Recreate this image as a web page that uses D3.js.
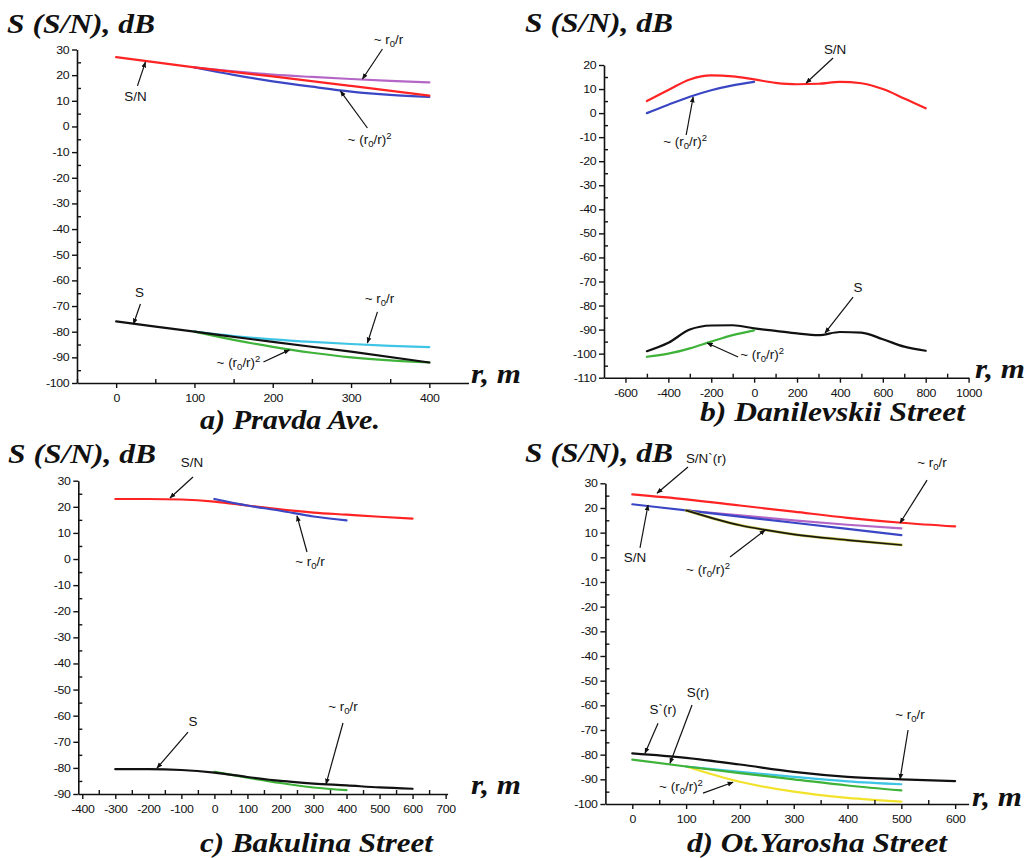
<!DOCTYPE html>
<html>
<head>
<meta charset="utf-8">
<script src="https://cdn.jsdelivr.net/npm/d3@7"></script>
<style>
  body { margin: 0; background: #fff; }
  svg { display: block; }
</style>
</head>
<body>
<svg id="fig" width="1032" height="858"></svg>
<script>
// ---------- a) Pravda Ave. ----------
const aDist = [0, 100, 200, 300, 400];
const aDistFit = [100, 150, 200, 250, 300, 350, 400];
const aSN = [27, 23, 19.5, 15.8, 12];
const aSNr1 = [23, 21.5, 20.2, 19.3, 18.5, 17.8, 17.2];
const aSNr2 = [23, 20.1, 17.6, 15.5, 13.6, 12.3, 11.5];
const aS = [-76, -80, -84, -87.8, -92];
const aSr1 = [-80, -81.7, -83, -84, -84.8, -85.5, -86];
const aSr2 = [-80, -83.2, -85.9, -88.2, -90, -91.2, -92];
const aXTicks = [0, 100, 200, 300, 400];
const aYTicks = [30, 20, 10, 0, -10, -20, -30, -40, -50, -60, -70, -80, -90, -100];

// ---------- b) Danilevskii Street ----------
const bDist = [-500, -400, -300, -200, -100, 0, 100, 200, 300, 400, 500, 600, 700, 800];
const bDistFit = [-500, -400, -300, -200, -100, 0];
const bSN = [5, 9.6, 14, 15.7, 15.3, 14, 12.6, 12, 12.2, 13, 12.4, 10, 6.1, 2];
const bSNr2 = [0, 3.5, 6.8, 9.5, 11.5, 13];
const bS = [-99, -95.5, -90, -88.3, -88.2, -89.5, -90.5, -91.6, -92.3, -91, -91.3, -94, -97.1, -98.8];
const bSr2 = [-101.3, -100, -97.8, -95, -92.3, -90.3];
const bXTicks = [-600, -400, -200, 0, 200, 400, 600, 800, 1000];
const bYTicks = [20, 10, 0, -10, -20, -30, -40, -50, -60, -70, -80, -90, -100, -110];

// ---------- c) Bakulina Street ----------
const cDist = [-300, -200, -100, 0, 100, 200, 300, 400, 500, 600];
const cDistFit = [0, 100, 200, 300, 400];
const cSN = [23, 23, 22.8, 22, 20.5, 19, 17.8, 17, 16.2, 15.5];
const cSNr1 = [23, 20.5, 18.5, 16.3, 14.8];
const cS = [-80.5, -80.5, -80.8, -81.8, -83.5, -85, -86, -86.7, -87.5, -88];
const cSr1 = [-81.5, -83.7, -85.8, -87.5, -88.5];
const cXTicks = [-400, -300, -200, -100, 0, 100, 200, 300, 400, 500, 600, 700];
const cYTicks = [30, 20, 10, 0, -10, -20, -30, -40, -50, -60, -70, -80, -90];

// ---------- d) Ot.Yarosha Street ----------
const dDist = [0, 100, 200, 300, 400, 500, 600];
const dDist5 = [0, 100, 200, 300, 400, 500];
const dDistFit = [100, 200, 300, 400, 500];
const dDistFit2 = [100, 150, 200, 250, 300, 400, 500];
const dSNp = [25.5, 23.5, 21, 18.5, 16, 14, 12.5];
const dSN = [21.5, 19, 16.5, 14, 11.5, 9];
const dSNr1 = [19, 17, 15, 13.2, 11.7];
const dSNr2 = [19, 15.8, 13, 11, 9.3, 7, 5];
const dSp = [-79.5, -81.3, -84, -87, -89, -90, -90.7];
const dS = [-82, -84.8, -87.5, -90, -92.5, -94.5];
const dSr1 = [-84.8, -87, -89, -90.8, -92];
const dSr2 = [-84.8, -91, -95, -97.5, -99];
const dXTicks = [0, 100, 200, 300, 400, 500, 600];
const dYTicks = [30, 20, 10, 0, -10, -20, -30, -40, -50, -60, -70, -80, -90, -100];

// ---------- colours ----------
const RED = '#ff2323', BLUE = '#3a46c4', PURPLE = '#b466c6', CYAN = '#3ec4e4',
      GREEN = '#3fb23a', YELLOW = '#f2e22a', OLIVE = '#c9c450', BLACK = '#111';

const SANS = '"Liberation Sans", Arial, sans-serif';
const SERIF = '"Liberation Serif", "Times New Roman", Times, serif';

const svg = d3.select('#fig');

svg.append('defs').append('marker')
  .attr('id', 'arrow')
  .attr('viewBox', '0 0 10 10')
  .attr('refX', 9).attr('refY', 5)
  .attr('markerWidth', 6).attr('markerHeight', 6)
  .attr('markerUnits', 'userSpaceOnUse')
  .attr('orient', 'auto')
  .append('path').attr('d', 'M0,1 L10,5 L0,9 Z').attr('fill', BLACK);

// labels of the form ~ r0/r and ~ (r0/r)^2
const RF1 = [['~ r'], ['0', 'sub'], ['/r']];
const RF2 = [['~ (r'], ['0', 'sub'], ['/r)'], ['2', 'sup']];

const panels = [
  {
    xr: [77, 468.5], yr: [383, 49.5], xd: [-50, 450], yd: [-100, 30],
    xTicks: aXTicks, xMinor: [-50, 50, 150, 250, 350], yTicks: aYTicks,
    head: [7, 33], rm: [471, 383], title: 'a) Pravda Ave.', titlePos: [200, 429], titleW: 180,
    series: [
      [aDistFit, aSNr1, PURPLE], [aDistFit, aSNr2, BLUE], [aDist, aSN, RED],
      [aDistFit, aSr1, CYAN], [aDistFit, aSr2, GREEN], [aDist, aS, BLACK]
    ],
    notes: [
      [[['S/N']], [24.6, 9.9], [27.2, 15.8], [37.4, 25.1]],
      [RF1, [347.8, 32.1], [340.1, 30.2], [314.6, 18.5]],
      [RF2, [323.6, -6.8], [320.9, -0.6], [286.5, 13.8]],
      [[['S']], [29.8, -66.5], [31, -69.2], [22.1, -77]],
      [RF1, [336.3, -68.8], [333.7, -72.3], [320.9, -84.4]],
      [RF2, [156.2, -93.8], [188.1, -91.8], [221.3, -87.1]]
    ]
  },
  {
    xr: [604, 968.6], yr: [377.7, 65], xd: [-700, 1000], yd: [-110, 20],
    xTicks: bXTicks, xMinor: [-500, -300, -100, 100, 300, 500, 700, 900], yTicks: bYTicks,
    head: [525, 32], rm: [975, 378], title: 'b) Danilevskii Street', titlePos: [700, 421], titleW: 265,
    series: [
      [bDist, bSN, RED], [bDistFit, bSNr2, BLUE], [bDist, bS, BLACK], [bDistFit, bSr2, GREEN]
    ],
    notes: [
      [[['S/N']], [377.4, 24.6], [368.1, 22.9], [242.3, 12.5]],
      [RF2, [-321.5, -13.7], [-316.9, -9.1], [-284.2, 6.7]],
      [[['S']], [484.6, -74.4], [461.3, -76.5], [330.8, -91.4]],
      [RF2, [37.3, -102.2], [-74.6, -101.4], [-219, -95.6]]
    ]
  },
  {
    xr: [78.3, 447.6], yr: [794, 480.7], xd: [-412, 706], yd: [-90, 30],
    xTicks: cXTicks, xMinor: [-350, -250, -150, -50, 50, 150, 250, 350, 450, 550, 650], yTicks: cYTicks,
    head: [8, 463], rm: [471, 794], title: 'c) Bakulina Street', titlePos: [200, 852], titleW: 233,
    series: [
      [cDist, cSN, RED], [cDistFit, cSNr1, BLUE], [cDistFit, cSr1, GREEN], [cDist, cS, BLACK]
    ],
    notes: [
      [[['S/N']], [-67.8, 35.2], [-64.8, 31.4], [-134.4, 23.4]],
      [RF1, [289.4, -2.7], [280.3, 2.7], [250.1, 16.5]],
      [[['S']], [-64.8, -64], [-79.9, -66.3], [-173.8, -80.1]],
      [RF1, [389.3, -58.2], [389.3, -62.8], [337.9, -86.2]]
    ]
  },
  {
    xr: [605.4, 968.6], yr: [804, 483.3], xd: [-50, 625], yd: [-100, 30],
    xTicks: dXTicks, xMinor: [50, 150, 250, 350, 450, 550], yTicks: dYTicks,
    head: [525, 462], rm: [972, 806], title: 'd) Ot.Yarosha Street', titlePos: [687, 852], titleW: 260,
    series: [
      [dDist, dSNp, RED], [dDistFit, dSNr1, PURPLE], [dDist5, dSN, BLUE],
      [dDistFit2, dSNr2, OLIVE, 2.8], [dDistFit2, dSNr2, '#1a1a10', 1.7],
      [dDistFit, dSr2, YELLOW], [dDistFit, dSr1, CYAN], [dDist5, dS, GREEN], [dDist, dSp, BLACK]
    ],
    notes: [
      [[['S/N`(r)']], [137, 38.2], [103.5, 36.6], [45.9, 26]],
      [RF1, [557, 36.6], [547.8, 31.3], [497.6, 13.9]],
      [[['S/N']], [5, -1.9], [14.3, 3.8], [29.2, 21.2]],
      [RF2, [140.7, -6.8], [181.6, 0.1], [246.7, 11]],
      [[['S(r)']], [122.1, -56.7], [111, -59.9], [70.1, -83.5]],
      [[['S`(r)']], [57.1, -63.6], [47.8, -67.3], [23.6, -79.4]],
      [RF1, [516.2, -65.6], [512.5, -70], [497.6, -89.9]],
      [RF2, [90.5, -94.7], [131.4, -95.6], [187.2, -91.2]]
    ]
  }
];

function minorY(ticks) {
  const out = [];
  for (let i = 0; i < ticks.length - 1; i++) out.push((ticks[i] + ticks[i + 1]) / 2);
  return out;
}

// plain ASCII hyphen for negatives, no thousands separator
const plain = d => String(d);

panels.forEach(p => {
  const x = d3.scaleLinear().domain(p.xd).range(p.xr);
  const y = d3.scaleLinear().domain(p.yd).range(p.yr);
  const g = svg.append('g');

  // curves
  const line = d3.line().curve(d3.curveMonotoneX).x(d => x(d[0])).y(d => y(d[1]));
  p.series.forEach(([xs, ys, col, w]) => {
    g.append('path')
      .datum(xs.map((v, i) => [v, ys[i]]))
      .attr('d', line)
      .attr('fill', 'none')
      .attr('stroke', col)
      .attr('stroke-width', w || 2.2)
      .attr('stroke-linejoin', 'round')
      .attr('stroke-linecap', 'round');
  });

  // axes: labelled major ticks outside, minor ticks inside
  const x0 = p.xr[0], yBase = p.yr[0];
  const axY = g.append('g').attr('transform', `translate(${x0},0)`)
    .call(d3.axisLeft(y).tickValues(p.yTicks).tickFormat(plain).tickSize(5).tickPadding(2).tickSizeOuter(0));
  g.append('g').attr('transform', `translate(${x0},0)`)
    .call(d3.axisLeft(y).tickValues(minorY(p.yTicks)).tickSize(-4).tickFormat('').tickSizeOuter(0))
    .call(s => s.select('.domain').remove());
  const axX = g.append('g').attr('transform', `translate(0,${yBase})`)
    .call(d3.axisBottom(x).tickValues(p.xTicks).tickFormat(plain).tickSize(5).tickPadding(6).tickSizeOuter(0));
  g.append('g').attr('transform', `translate(0,${yBase})`)
    .call(d3.axisBottom(x).tickValues(p.xMinor).tickSize(-4).tickFormat('').tickSizeOuter(0))
    .call(s => s.select('.domain').remove());

  g.selectAll('.domain').attr('stroke', BLACK).attr('stroke-width', 1.6);
  g.selectAll('.tick line').attr('stroke', BLACK).attr('stroke-width', 1.4);
  [axY, axX].forEach(ax => ax.selectAll('text')
    .attr('font-family', SANS).attr('font-size', 11).attr('fill', '#111')
    .attr('letter-spacing', -0.3)
    .attr('transform', 'scale(1.12,1)'));

  // annotation labels with pointer lines
  p.notes.forEach(([parts, tp, a0, a1]) => {
    g.append('line')
      .attr('x1', x(a0[0])).attr('y1', y(a0[1]))
      .attr('x2', x(a1[0])).attr('y2', y(a1[1]))
      .attr('stroke', BLACK).attr('stroke-width', 1.2)
      .attr('marker-end', 'url(#arrow)');
    const t = g.append('text')
      .attr('transform', `translate(${x(tp[0])},${y(tp[1])}) scale(1.12,1)`)
      .attr('text-anchor', 'middle')
      .attr('font-family', SANS).attr('font-size', 12).attr('fill', '#111');
    let shift = 0;
    parts.forEach(([txt, kind]) => {
      const want = kind === 'sub' ? 3 : kind === 'sup' ? -5 : 0;
      const ts = t.append('tspan').text(txt).attr('dy', want - shift);
      if (kind) ts.attr('font-size', 8.5);
      shift = want;
    });
  });

  // headings
  const serifText = (pos, str, w) => g.append('text')
    .attr('x', pos[0]).attr('y', pos[1])
    .attr('font-family', SERIF).attr('font-weight', 'bold').attr('font-style', 'italic')
    .attr('font-size', 27).attr('fill', '#111')
    .attr('textLength', w).attr('lengthAdjust', 'spacingAndGlyphs')
    .text(str);
  serifText(p.head, 'S (S/N), dB', 148);
  serifText(p.rm, 'r, m', 50);
  serifText(p.titlePos, p.title, p.titleW);
});
</script>
</body>
</html>
